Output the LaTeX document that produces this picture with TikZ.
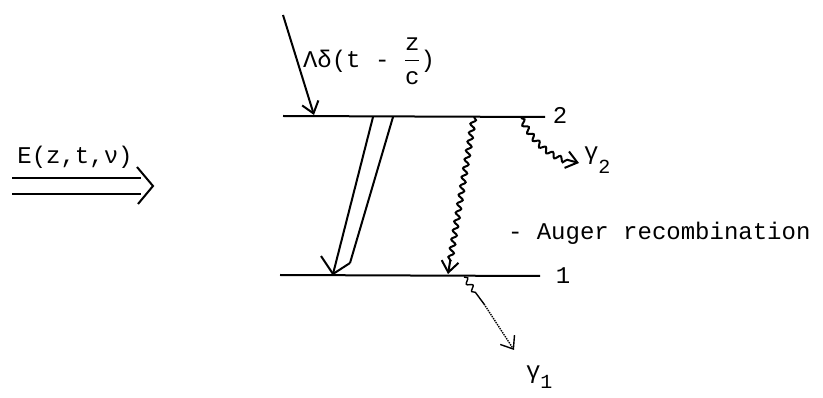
\documentclass[tikz,border=0pt]{standalone}
\usepackage{fontspec}
\usepackage{amsmath}
\setmainfont{Liberation Mono}
\usetikzlibrary{arrows.meta,decorations.pathmorphing}

\begin{document}
\begin{tikzpicture}[x=1pt,y=-1pt,line width=2pt,font=\fontsize{24}{28}\selectfont,lbl/.style={inner sep=0pt,align=center},tip/.style={-{Straight Barb[length=11pt,width=17pt]}},wave/.style={decorate,decoration={snake,amplitude=2.5pt,segment length=9pt,post length=10pt}}]
\useasboundingbox (0,0) rectangle (823,398);
\coordinate (up-l) at (283,116);
\coordinate (up-r) at (545,117);
\coordinate (lo-l) at (280,275);
\coordinate (lo-r) at (540,276);
\draw (up-l) -- (up-r);
\draw (lo-l) -- (lo-r);
\node[lbl] (lev2) at (560,115){2};
\node[lbl] (lev1) at (563,276){1};
\node[lbl] (field) at (75,157){E(z,t,ν)};
\coordinate (f1a) at (12,178); \coordinate (f1b) at (141,178);
\coordinate (f2a) at (12,194); \coordinate (f2b) at (141,194);
\coordinate (fh1) at (137,167); \coordinate (fhtip) at (153,186); \coordinate (fh2) at (138,204);
\draw (f1a) -- (f1b);
\draw (f2a) -- (f2b);
\draw (fh1) -- (fhtip) -- (fh2);
\coordinate (pump) at (283,15);
\coordinate (hit) at (314,115);
\draw[tip] (pump) -- (hit);
\node[lbl,anchor=west] (pulse) at (302,61){Λδ(t - $\dfrac{\text{z}}{\text{c}}$)};
\coordinate (h1) at (373,117); \coordinate (h2) at (393,117);
\coordinate (htip) at (333,274); \coordinate (h3) at (350,263); \coordinate (h4) at (321,256);
\draw (h1) -- (htip);
\draw (h2) -- (h3);
\draw (h4) -- (htip) -- (h3);
\coordinate (w1) at (474,117);
\coordinate (w2) at (448,274);
\draw[wave,tip] (w1) -- (w2);
\node[lbl,anchor=west] (auger) at (507,233){- Auger recombination};
\coordinate (g2a) at (521,118);
\coordinate (g2b) at (579,163);
\draw[wave,tip] (g2a) to[bend right=25] (g2b);
\node[lbl,anchor=west] (gam2) at (583,160){γ\raisebox{-14pt}{\fontsize{20}{20}\selectfont 2}};
\coordinate (g1a) at (464,277);
\coordinate (g1b) at (484,304);
\coordinate (g1c) at (514,350);
\draw[wave,line width=1.4pt] (g1a) -- (g1b);
\draw[densely dotted,line width=1.4pt,tip] (g1b) -- (g1c);
\node[lbl,anchor=west] (gam1) at (525,377){γ\raisebox{-10pt}{\fontsize{20}{20}\selectfont 1}};
\end{tikzpicture}
\end{document}
